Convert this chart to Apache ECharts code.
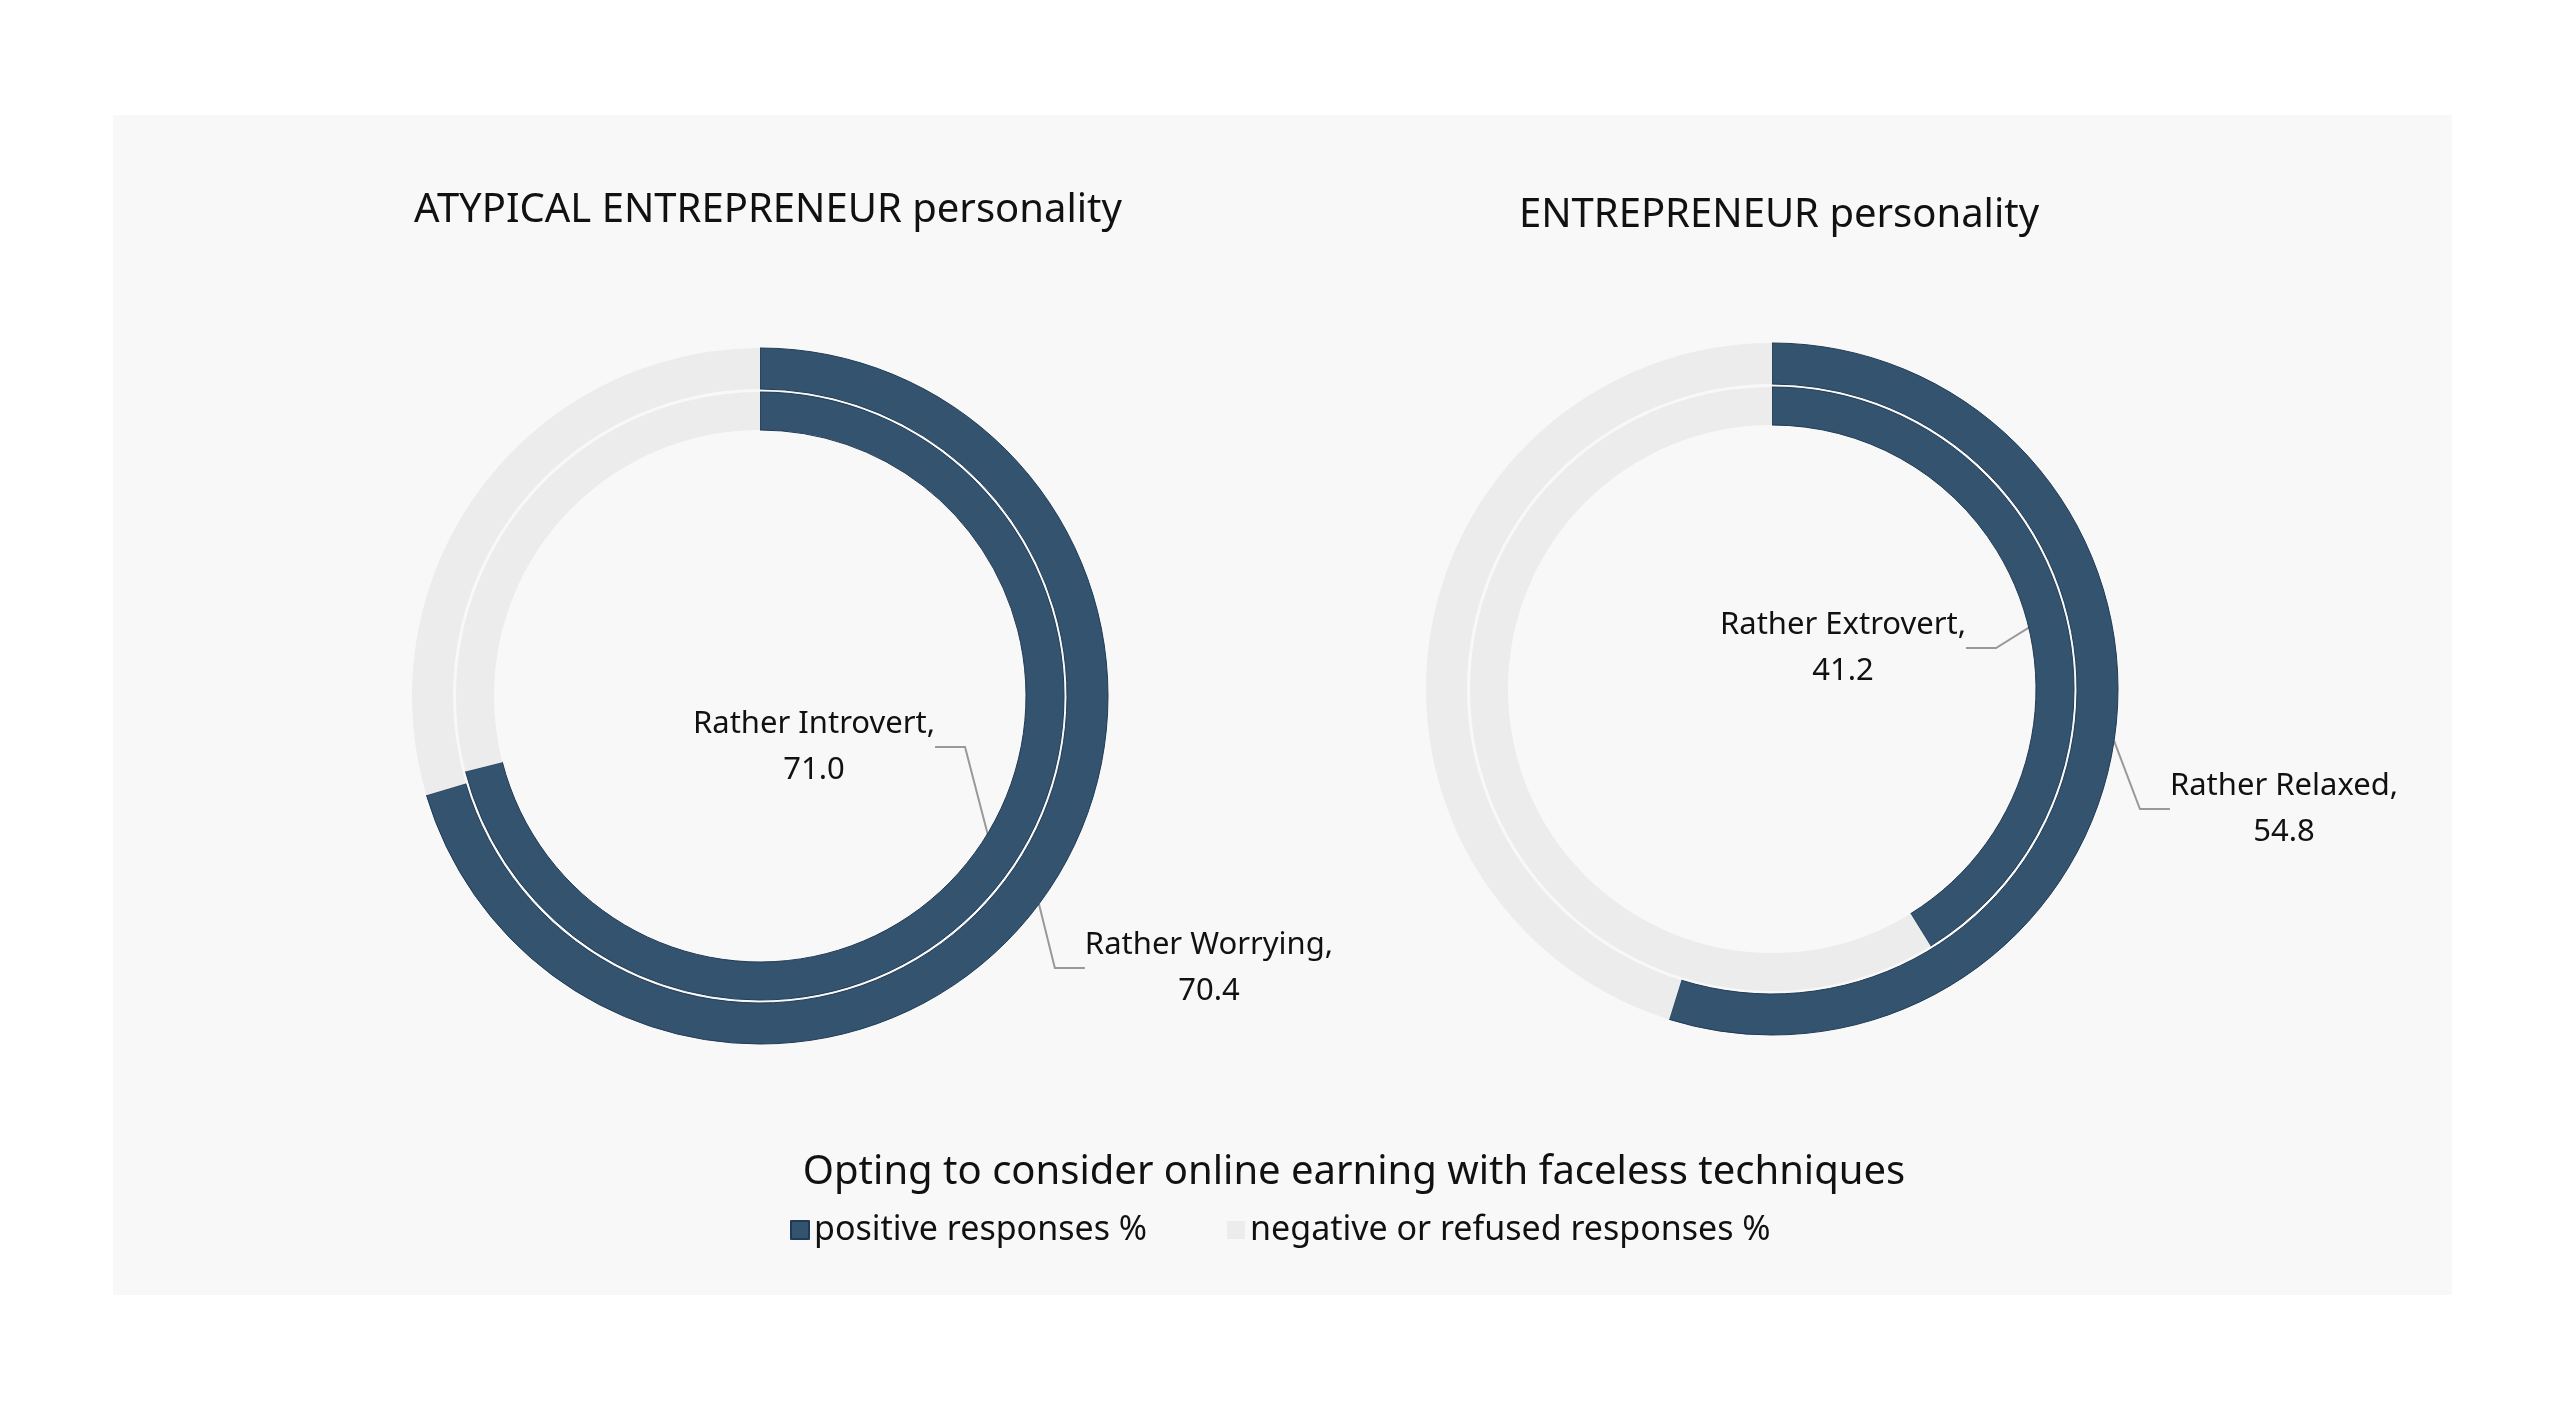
<!DOCTYPE html>
<html>
<head>
<meta charset="utf-8">
<title>Faceless techniques</title>
<script src="https://cdn.jsdelivr.net/npm/echarts@6/dist/echarts.min.js"></script>
<style>
  html, body { margin: 0; background: #fff; }
  #panel { position: absolute; left: 113px; top: 115px; width: 2339px; height: 1180px; background: #f8f8f8; }
  #main { position: absolute; left: 0; top: 0; width: 2560px; height: 1421px; }
</style>
</head>
<body>
<div id="panel"></div>
<div id="main"></div>
<script>
  // values
  var categories = ['positive responses %', 'negative or refused responses %'];
  var leftOuter = { name: 'Rather Worrying', value: 70.4 };
  var leftInner = { name: 'Rather Introvert', value: 71.0 };
  var rightOuter = { name: 'Rather Relaxed', value: 54.8 };
  var rightInner = { name: 'Rather Extrovert', value: 41.2 };

  var posColor = '#34536f';
  var negColor = '#ececec';
  var font = 'Noto Sans';

  var chart = echarts.init(document.getElementById('main'), null, { renderer: 'canvas' });

  function ring(item, center, radius, labelPos) {
    return {
      type: 'pie',
      center: center,
      radius: radius,
      startAngle: 90,
      clockwise: true,
      silent: true,
      emphasis: { disabled: true },
      itemStyle: { borderColor: '#f8f8f8', borderWidth: 0 },
      label: {
        show: true,
        position: 'outside',
        fontFamily: font,
        fontSize: 31,
        color: '#111',
        align: 'center',
        lineHeight: 46,
        formatter: function () { return item.name + ',\n' + item.value.toFixed(1); }
      },
      labelLine: { show: true, length: 20, length2: 30, lineStyle: { color: '#999', width: 2 } },
      labelLayout: function (p) {
        if (p.dataIndex !== 0) return {};
        return { x: labelPos[0], y: labelPos[1], align: 'center', verticalAlign: 'middle' };
      },
      data: [
        { name: categories[0], value: item.value, itemStyle: { color: posColor, borderColor: '#1f3a55', borderWidth: 1 } },
        { name: categories[1], value: +(100 - item.value).toFixed(1), itemStyle: { color: negColor },
          label: { show: false }, labelLine: { show: false } }
      ]
    };
  }

  chart.setOption({
    backgroundColor: 'transparent',
    title: [
      { text: 'ATYPICAL ENTREPRENEUR personality', left: 763, top: 186, textAlign: 'center',
        textStyle: { fontFamily: font, fontSize: 40, fontWeight: 'normal', color: '#111' } },
      { text: 'ENTREPRENEUR personality', left: 1774, top: 191, textAlign: 'center',
        textStyle: { fontFamily: font, fontSize: 40, fontWeight: 'normal', color: '#111' } },
      { text: 'Opting to consider online earning with faceless techniques', left: 1349, top: 1148, textAlign: 'center',
        textStyle: { fontFamily: font, fontSize: 40, fontWeight: 'normal', color: '#111' } }
    ],
    legend: {
      data: categories,
      left: 785, top: 1208,
      itemWidth: 18, itemHeight: 18, itemGap: 80,
      icon: 'rect',
      textStyle: { fontFamily: font, fontSize: 34, color: '#111' }
    },
    series: [
      ring(leftOuter, [760, 696], [307, 348], [1209, 968]),
      ring(leftInner, [760, 696], [266, 304], [814, 747]),
      ring(rightOuter, [1772, 689], [305, 346], [2284, 809]),
      ring(rightInner, [1772, 689], [264, 302], [1843, 648])
    ]
  });
</script>
</body>
</html>
